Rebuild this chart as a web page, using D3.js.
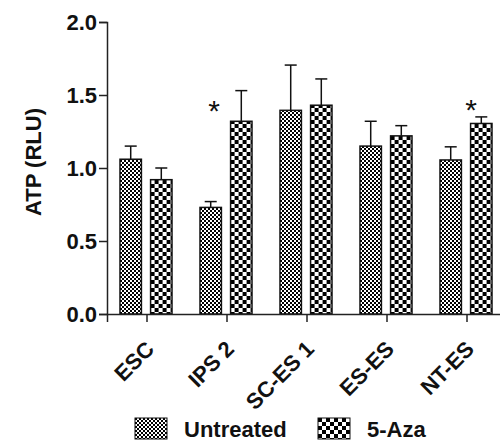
<!DOCTYPE html>
<html>
<head>
<meta charset="utf-8">
<script src="https://cdn.jsdelivr.net/npm/d3@7"></script>
<style>
  body { margin: 0; background: #fff; }
  text { font-family: "Liberation Sans", Arial, sans-serif; font-weight: bold; fill: #111; }
</style>
</head>
<body>
<div id="chart"></div>
<script>
var categories = ["ESC", "IPS 2", "SC-ES 1", "ES-ES", "NT-ES"];
var seriesNames = ["Untreated", "5-Aza"];
var untreated = [1.06, 0.73, 1.395, 1.15, 1.055];
var untreatedErr = [0.09, 0.04, 0.31, 0.17, 0.09];
var aza = [0.92, 1.32, 1.43, 1.22, 1.305];
var azaErr = [0.08, 0.21, 0.18, 0.07, 0.045];
var yTicks = [0, 0.5, 1.0, 1.5, 2.0];
var sigCats = ["IPS 2", "NT-ES"];
var sigLevel = [1.44, 1.445];

var w = 500, h = 441;
var margin = {top: 22, left: 107, bottom: 127};
var plotH = h - margin.top - margin.bottom;

var svg = d3.select("#chart").append("svg")
    .attr("width", w)
    .attr("height", h);

// fill patterns: fine checker for untreated, coarse for 5-Aza
var defs = svg.append("defs");
function checker(id, s) {
    var p = defs.append("pattern")
        .attr("id", id)
        .attr("patternUnits", "userSpaceOnUse")
        .attr("width", s * 2)
        .attr("height", s * 2);
    p.append("rect").attr("width", s * 2).attr("height", s * 2).attr("fill", "#fff");
    p.append("rect").attr("width", s).attr("height", s).attr("fill", "#000");
    p.append("rect").attr("x", s).attr("y", s).attr("width", s).attr("height", s).attr("fill", "#000");
}
checker("pat0", 2);
checker("pat1", 4);
var fills = ["url(#pat0)", "url(#pat1)"];

var x = d3.scaleBand()
    .domain(categories)
    .range([margin.left, margin.left + 80 * categories.length]);

var xInner = d3.scaleBand()
    .domain(seriesNames)
    .range([13, 65])
    .paddingInner(0.3);

var y = d3.scaleLinear()
    .domain([0, 2])
    .range([margin.top + plotH, margin.top]);

var rows = [];
categories.forEach(function(c, i) {
    rows.push({cat: c, s: 0, v: untreated[i], e: untreatedErr[i]});
    rows.push({cat: c, s: 1, v: aza[i], e: azaErr[i]});
});

var bars = svg.append("g").selectAll("g")
    .data(rows)
    .enter()
    .append("g")
    .attr("transform", function(d) { return "translate(" + (x(d.cat) + xInner(seriesNames[d.s])) + ",0)"; });

var bw = xInner.bandwidth();

// error bars (upper only)
bars.append("line")
    .attr("x1", bw / 2).attr("x2", bw / 2)
    .attr("y1", function(d) { return y(d.v); })
    .attr("y2", function(d) { return y(d.v + d.e); })
    .attr("stroke", "#111")
    .attr("stroke-width", 1.5);
bars.append("line")
    .attr("x1", bw / 2 - 6).attr("x2", bw / 2 + 6)
    .attr("y1", function(d) { return y(d.v + d.e); })
    .attr("y2", function(d) { return y(d.v + d.e); })
    .attr("stroke", "#111")
    .attr("stroke-width", 1.5);

bars.append("rect")
    .attr("y", function(d) { return y(d.v); })
    .attr("width", bw)
    .attr("height", function(d) { return y(0) - y(d.v); })
    .attr("fill", function(d) { return fills[d.s]; })
    .attr("stroke", "#111")
    .attr("stroke-width", 1.5);

// axes
var yAxis = svg.append("g")
    .attr("transform", "translate(" + margin.left + ",0)")
    .call(d3.axisLeft(y).tickValues(yTicks).tickFormat(d3.format(".1f")).tickSizeOuter(0).tickSize(8).tickPadding(2));
yAxis.selectAll("text").style("font-size", "22px");

var xAxis = svg.append("g")
    .attr("transform", "translate(0," + y(0) + ")")
    .call(d3.axisBottom(x).tickSizeOuter(0).tickSize(8));
xAxis.selectAll("text")
    .style("font-size", "22px")
    .attr("text-anchor", "end")
    .attr("dy", "0.35em")
    .attr("transform", "translate(3,31) rotate(-45)")
    .attr("x", 0).attr("y", 0);

svg.selectAll(".domain, .tick line")
    .attr("stroke", "#222")
    .attr("stroke-width", 1.5);

svg.append("text")
    .attr("transform", "translate(41," + (margin.top + 140) + ") rotate(-90)")
    .attr("text-anchor", "middle")
    .style("font-size", "22px")
    .text("ATP (RLU)");

// significance marks
svg.selectAll(".sig")
    .data(sigCats)
    .enter()
    .append("text")
    .attr("class", "sig")
    .attr("x", function(d, i) { return x(d) + (i === 0 ? 27 : 44); })
    .attr("y", function(d, i) { return y(sigLevel[i]) + 17; })
    .attr("text-anchor", "middle")
    .style("font-size", "30px")
    .style("font-weight", "normal")
    .text("*");

// legend
var legend = svg.append("g").selectAll("g")
    .data(seriesNames)
    .enter()
    .append("g")
    .attr("transform", function(d, i) { return "translate(" + (135 + i * 183) + ",418)"; });
legend.append("rect")
    .attr("width", 32).attr("height", 21)
    .attr("fill", function(d, i) { return fills[i]; })
    .attr("stroke", "#111").attr("stroke-width", 1);
legend.append("text")
    .attr("x", 49).attr("y", 19)
    .style("font-size", "22px")
    .text(function(d) { return d; });
</script>
</body>
</html>
